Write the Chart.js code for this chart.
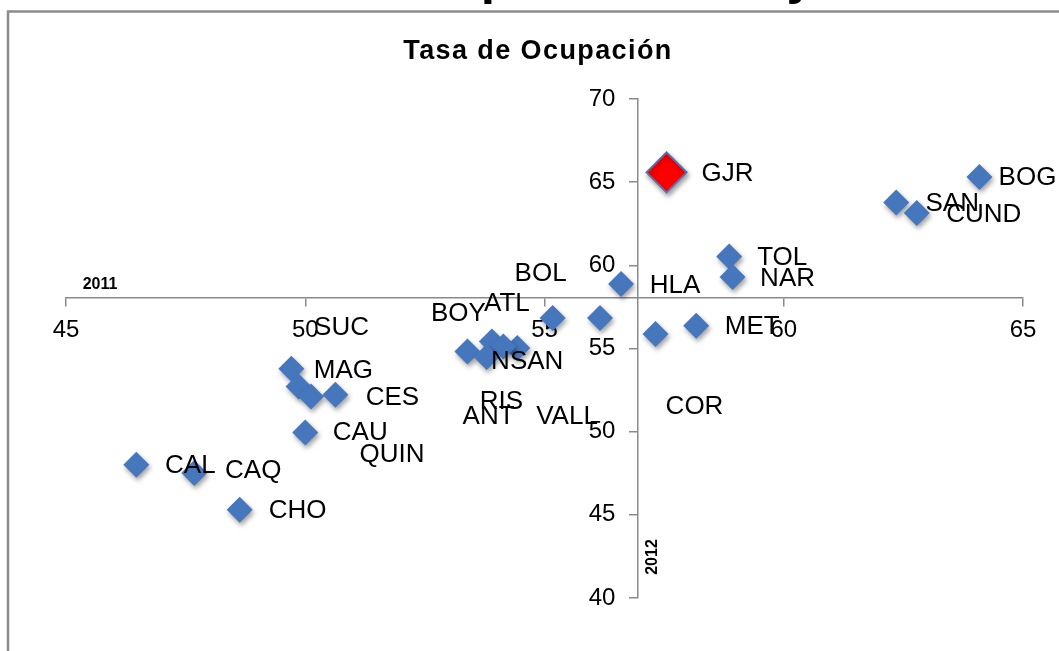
<!DOCTYPE html>
<html>
<head>
<meta charset="utf-8">
<title>Tasa de Ocupación</title>
<script src="https://cdn.jsdelivr.net/npm/chart.js"></script>
<style>
  html, body { margin: 0; padding: 0; background: #fff; }
  #wrap { width: 1059px; height: 651px; }
</style>
</head>
<body>
<div id="wrap"><canvas id="ocupacion" width="1059" height="651"></canvas></div>
<script>
// tasa de ocupacion por departamento: 2011 en x, 2012 en y
const departamentos = ['GJR', 'BOG', 'SAN', 'CUND', 'TOL', 'NAR', 'HLA', 'BOL', 'VALL', 'COR', 'MET', 'ATL',
                       'BOY', 'NSAN', 'RIS', 'ANT', 'MAG', 'SUC', 'QUIN', 'CES', 'CAU', 'CAL', 'CAQ', 'CHO'];
const tasa2011 = [57.55, 64.09, 62.35, 62.78, 58.86, 58.93, 56.60, 55.17, 56.16, 57.32, 58.17, 53.90,
                  53.39, 54.43, 54.14, 53.79, 49.71, 49.86, 50.12, 50.63, 50.00, 46.47, 47.68, 48.63];
const tasa2012 = [65.59, 65.31, 63.78, 63.14, 60.53, 59.30, 58.88, 56.83, 56.83, 55.87, 56.37, 55.42,
                  54.82, 55.03, 55.12, 54.49, 53.78, 52.72, 52.12, 52.22, 49.95, 48.01, 47.51, 45.30];

// los ejes se cruzan en el total nacional
const nacional2011 = 56.94;
const nacional2012 = 58.06;
const destacado = 'GJR';

// donde quedo cada etiqueta respecto a su punto (px)
const etiquetaOffset = [[61, 1], [48, 1], [56, 1], [67, 2], [53, 1], [55, 2], [54, 2], [-12, -44], [-33, 99], [39, 73], [56, 1], [15, -38],
                        [-9, -38], [10, 14], [-2, 55], [2, 60], [52, 2], [43, -59], [81, 58], [57, 3], [55, 0], [54, 1], [59, -2], [58, 1]];

const azul = '#4677bd';
const gris = '#8a8a8a';
const fuente = '"Liberation Sans", Arial, sans-serif';

Chart.defaults.font.family = fuente;
Chart.defaults.color = '#000';

const marco = {
  id: 'marco',
  afterLayout(chart) {
    // con el eje en un valor, chart.js pega los numeros del eje y a la linea
    const items = chart.scales.y.getLabelItems(chart.chartArea);
    items.forEach(it => {
      if (it.options && it.options.translation) it.options.translation[0] -= 22;
    });
  },
  beforeDraw(chart) {
    const ctx = chart.ctx;
    ctx.save();
    ctx.fillStyle = '#fff';
    ctx.fillRect(0, 0, chart.width, chart.height);
    // borde del grafico (cortado a la derecha y abajo)
    ctx.strokeStyle = '#8c8c8c';
    ctx.lineWidth = 2.5;
    ctx.beginPath();
    ctx.moveTo(8, chart.height);
    ctx.lineTo(8, 11.5);
    ctx.lineTo(chart.width, 11.5);
    ctx.stroke();

    // titulo de la diapositiva, solo se alcanzan a ver los trazos de abajo
    const s = 'Tasa de Ocupación 2011 y 2012';
    ctx.font = 'bold 100px ' + fuente;
    const iP = s.indexOf('p');
    const iY = s.indexOf(' y ') + 1;
    const pX = ctx.measureText(s.slice(0, iP)).width + 14;
    const yX = ctx.measureText(s.slice(0, iY)).width + 20;
    const size = 100 * (797 - 488) / (yX - pX);
    ctx.font = 'bold ' + size + 'px ' + fuente;
    ctx.fillStyle = '#000';
    ctx.textBaseline = 'alphabetic';
    ctx.textAlign = 'left';
    ctx.fillText(s, 488 - pX * size / 100, -7);

    // titulo del grafico
    ctx.font = 'bold 27px ' + fuente;
    ctx.letterSpacing = '1.4px';
    ctx.textAlign = 'center';
    ctx.fillText('Tasa de Ocupación', 538, 59);
    ctx.restore();
  }
};

const sombraYEtiquetas = {
  id: 'sombraYEtiquetas',
  beforeDatasetsDraw(chart) {
    const ctx = chart.ctx;
    ctx.save();
    ctx.shadowColor = 'rgba(0,0,0,0.38)';
    ctx.shadowBlur = 5;
    ctx.shadowOffsetX = 1.5;
    ctx.shadowOffsetY = 3;
  },
  afterDatasetsDraw(chart) {
    const ctx = chart.ctx;
    ctx.restore();
    const meta = chart.getDatasetMeta(0);
    ctx.save();
    ctx.font = '26px ' + fuente;
    ctx.fillStyle = '#000';
    ctx.textAlign = 'center';
    ctx.textBaseline = 'middle';
    meta.data.forEach((pt, i) => {
      const off = etiquetaOffset[i];
      ctx.fillText(departamentos[i], pt.x + off[0], pt.y + off[1]);
    });

    // nombres de los ejes
    const xs = chart.scales.x, ys = chart.scales.y;
    const ejeY = ys.getPixelForValue(nacional2012);
    const ejeX = xs.getPixelForValue(nacional2011);
    ctx.font = 'bold 16px ' + fuente;
    ctx.fillText('2011', xs.left + 34, ejeY - 13);
    ctx.translate(ejeX + 15, ys.bottom - 41);
    ctx.rotate(-Math.PI / 2);
    ctx.fillText('2012', 0, 0);
    ctx.restore();
  }
};

new Chart(
  document.getElementById('ocupacion'),
  {
    type: 'scatter',
    data: {
      labels: departamentos,
      datasets: [{
        label: 'Tasa de Ocupación',
        data: tasa2011.map((v, i) => ({ x: v, y: tasa2012[i] })),
        pointStyle: 'rectRot',
        pointRadius: c => departamentos[c.dataIndex] === destacado ? 20 : 13,
        pointBackgroundColor: c => departamentos[c.dataIndex] === destacado ? '#ff0000' : azul,
        pointBorderColor: azul,
        pointBorderWidth: c => departamentos[c.dataIndex] === destacado ? 2 : 0
      }]
    },
    options: {
      responsive: false,
      animation: false,
      layout: { padding: { top: 99, left: 66, right: 36, bottom: 53 } },
      plugins: {
        legend: { display: false },
        tooltip: { enabled: false }
      },
      scales: {
        x: {
          type: 'linear',
          min: 45,
          max: 65,
          position: { y: nacional2012 },
          z: 1,
          grid: { drawOnChartArea: false, drawTicks: true, tickLength: 8, color: gris, lineWidth: 1.5 },
          border: { display: true, color: gris, width: 1.5 },
          ticks: { stepSize: 5, padding: 10, font: { size: 24 } }
        },
        y: {
          type: 'linear',
          min: 40,
          max: 70,
          position: { x: nacional2011 },
          z: 1,
          grid: { drawOnChartArea: false, drawTicks: true, tickLength: 8, color: gris, lineWidth: 1.5 },
          border: { display: true, color: gris, width: 1.5 },
          ticks: { stepSize: 5, padding: 15, font: { size: 24 } }
        }
      }
    },
    plugins: [marco, sombraYEtiquetas]
  }
);
</script>
</body>
</html>
